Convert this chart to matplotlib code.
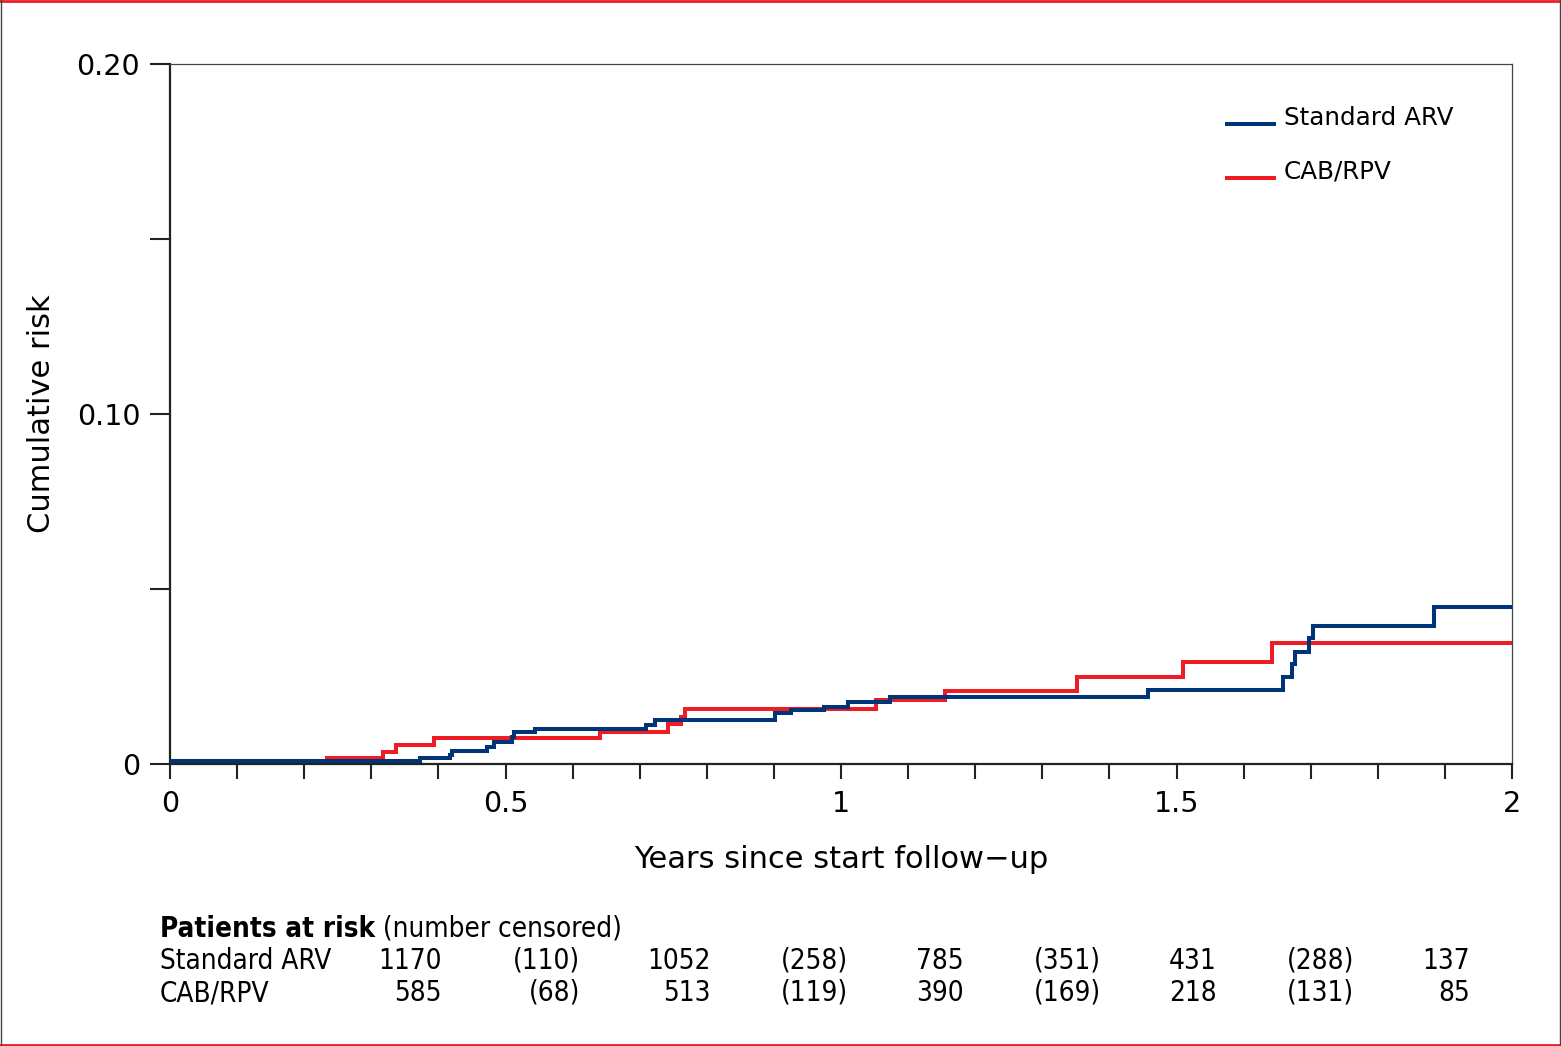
import matplotlib
matplotlib.use("Agg")
import matplotlib.pyplot as plt
from matplotlib.lines import Line2D
from matplotlib.legend_handler import HandlerLine2D
import numpy as np

# ---------------- data ----------------
arv_times = [0.0, 0.373, 0.417, 0.421, 0.472, 0.483, 0.509, 0.513, 0.544, 0.710, 0.723,
             0.902, 0.926, 0.974, 1.011, 1.073, 1.458, 1.659, 1.672, 1.676, 1.697, 1.704, 1.884]
arv_risk = [0.00085, 0.0017, 0.0026, 0.0036, 0.0049, 0.0064, 0.0076, 0.0092, 0.0100, 0.0111, 0.0125,
            0.0145, 0.0154, 0.0164, 0.0176, 0.0191, 0.0212, 0.0248, 0.0286, 0.0320, 0.0359, 0.0394, 0.0448]

cab_times = [0.0, 0.234, 0.317, 0.337, 0.393, 0.641, 0.742, 0.762, 0.767,
             1.052, 1.155, 1.351, 1.509, 1.643]
cab_risk = [0.0, 0.0018, 0.0035, 0.0054, 0.0073, 0.0092, 0.0113, 0.0135, 0.0156,
            0.0183, 0.0209, 0.0249, 0.0292, 0.0345]

t_end = 2.0

series_names = ["Standard ARV", "CAB/RPV"]
series_colors = ["#003478", "#EE1C25"]

x_ticklabels = ["0", "0.5", "1", "1.5", "2"]
y_ticklabels = ["0", "0.10", "0.20"]

risk_header_bold = "Patients at risk"
risk_header_rest = " (number censored)"
risk_arv = ["1170", "(110)", "1052", "(258)", "785", "(351)", "431", "(288)", "137"]
risk_cab = ["585", "(68)", "513", "(119)", "390", "(169)", "218", "(131)", "85"]

# ---------------- figure ----------------
W, H = 1561, 1046
fig = plt.figure(figsize=(W / 100, H / 100), dpi=100)
plt.rcParams['font.family'] = ['DejaVu Sans']

def fx(px):
    return px / W

def fy(py):
    return 1 - py / H

ax = fig.add_axes([fx(170), fy(764), fx(1512) - fx(170), fy(64) - fy(764)])

ax.step(arv_times + [t_end], arv_risk + [arv_risk[-1]], where='post',
        color=series_colors[0], lw=2.9, solid_joinstyle='miter', zorder=3)
ax.step(cab_times + [t_end], cab_risk + [cab_risk[-1]], where='post',
        color=series_colors[1], lw=2.9, solid_joinstyle='miter', zorder=2)

ax.set_xlim(0, 2)
ax.set_ylim(0, 0.2)

ax.set_xticks(np.arange(0, 2.01, 0.1), minor=True)
ax.set_xticks([0, 0.5, 1, 1.5, 2])
ax.set_xticklabels(x_ticklabels, fontsize=20.5)
ax.set_yticks([0.05, 0.15], minor=True)
ax.set_yticks([0, 0.1, 0.2])
ax.set_yticklabels(y_ticklabels, fontsize=20.5)

ax.tick_params(axis='x', which='both', direction='out', length=11, width=1.5, color='#222222', pad=8)
ax.tick_params(axis='y', which='both', direction='out', length=14.5, width=1.5, color='#222222', pad=7)

for s in ['left', 'bottom']:
    ax.spines[s].set_linewidth(1.6)
    ax.spines[s].set_color('#222222')
for s in ['top', 'right']:
    ax.spines[s].set_linewidth(0.9)
    ax.spines[s].set_color('#444444')

ax.set_xlabel("Years since start follow\u2212up", fontsize=22, labelpad=19)
ax.set_ylabel("Cumulative risk", fontsize=22, labelpad=15)


class LowLine(HandlerLine2D):
    def create_artists(self, legend, orig_handle, xdescent, ydescent, width, height, fontsize, trans):
        return super().create_artists(legend, orig_handle, xdescent, ydescent + 11,
                                      width, height, fontsize, trans)


handles = [Line2D([], [], color=c, lw=2.9) for c in series_colors]
leg = ax.legend(handles, series_names, loc='upper left',
                bbox_to_anchor=((1227 - 170) / 1342, (764 - 106) / 700),
                frameon=False, fontsize=17.7, handlelength=1.9, handletextpad=0.4,
                labelspacing=1.22, borderpad=0, borderaxespad=0,
                handler_map={Line2D: LowLine()})

# ---------------- risk table ----------------
tfs = 20
hdr = fig.text(fx(160), fy(929), risk_header_bold, fontsize=tfs, fontweight='bold',
               fontstretch='condensed', va='center', ha='left')
fig.canvas.draw()
bb = hdr.get_window_extent()
fig.text(bb.x1 / W, fy(929), risk_header_rest, fontsize=tfs, fontstretch='condensed',
         va='center', ha='left')

col_right = [442, 580, 711, 848, 964, 1101, 1217, 1354, 1470]
row_y = [961, 993]
for name, vals, yy in zip(series_names, [risk_arv, risk_cab], row_y):
    fig.text(fx(160), fy(yy), name, fontsize=tfs, fontstretch='condensed', va='center', ha='left')
    for xr, v in zip(col_right, vals):
        fig.text(fx(xr), fy(yy), v, fontsize=tfs, fontstretch='condensed', va='center', ha='right')

# ---------------- border ----------------
fig.add_artist(Line2D([0, 1], [1 - 1 / H, 1 - 1 / H], color='#EE1C25', lw=2, transform=fig.transFigure))
fig.add_artist(Line2D([0, 1], [1 / H, 1 / H], color='#EE1C25', lw=2, transform=fig.transFigure))
fig.add_artist(Line2D([0.5 / W, 0.5 / W], [0, 1], color='#444444', lw=1, transform=fig.transFigure))
fig.add_artist(Line2D([1 - 1.5 / W, 1 - 1.5 / W], [0, 1], color='#444444', lw=1, transform=fig.transFigure))

fig.savefig("out.png", dpi=100)
